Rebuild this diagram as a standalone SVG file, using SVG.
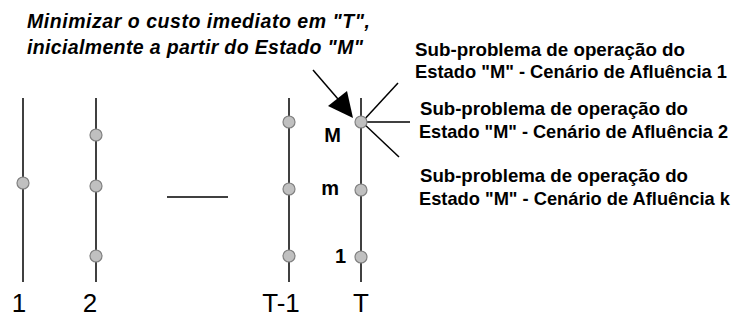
<svg xmlns="http://www.w3.org/2000/svg" width="740" height="326" viewBox="0 0 740 326">
<style>
.ln{stroke:#000;stroke-width:1.5;fill:none}
.nd{fill:#c0c0c0;stroke:#808080;stroke-width:1.2}
.t{font-family:"Liberation Sans",Arial,sans-serif;fill:#000}
.title{font-size:19.5px;font-weight:bold;font-style:italic}
.sub{font-size:19px;font-weight:bold}
.sub2{font-size:18.4px;font-weight:bold}
.ax{font-size:26px}
.st{font-size:20px;font-weight:bold}
</style>
<rect width="740" height="326" fill="#fff"/>
<g id="title">
<text class="t title" x="27" y="28" textLength="343" lengthAdjust="spacing">Minimizar o custo imediato em "T",</text>
<text class="t title" x="27" y="54" textLength="336" lengthAdjust="spacing">inicialmente a partir do Estado "M"</text>
</g>
<g id="connectors">
<line class="ln" x1="23" y1="98" x2="23" y2="282"/>
<line class="ln" x1="96" y1="98" x2="96" y2="282"/>
<line class="ln" x1="289" y1="98" x2="289" y2="282"/>
<line class="ln" x1="361" y1="98" x2="361" y2="282"/>
<line class="ln" x1="167" y1="197" x2="228" y2="197"/>
<line class="ln" x1="313" y1="70" x2="338" y2="99" stroke-width="2"/>
<polygon points="328,106 347,91 353,118" fill="#000"/>
<line class="ln" x1="362" y1="122" x2="398" y2="83"/>
<line class="ln" x1="362" y1="122" x2="410" y2="122"/>
<line class="ln" x1="362" y1="122" x2="399" y2="157"/>
</g>
<g id="stage-1">
<circle class="nd" cx="23" cy="183" r="6"/>
<text class="t ax" x="19" y="312" text-anchor="middle">1</text>
</g>
<g id="stage-2">
<circle class="nd" cx="96" cy="135" r="6"/>
<circle class="nd" cx="96" cy="186" r="6"/>
<circle class="nd" cx="96" cy="256" r="6"/>
<text class="t ax" x="90" y="312" text-anchor="middle">2</text>
</g>
<g id="stage-T-1">
<circle class="nd" cx="289" cy="122" r="6"/>
<circle class="nd" cx="289" cy="189" r="6"/>
<circle class="nd" cx="289" cy="256" r="6"/>
<text class="t ax" x="281" y="312" text-anchor="middle">T-1</text>
</g>
<g id="stage-T">
<circle class="nd" cx="361" cy="122" r="6"/>
<circle class="nd" cx="361" cy="190" r="6"/>
<circle class="nd" cx="361" cy="257" r="6"/>
<text class="t ax" x="361" y="312" text-anchor="middle">T</text>
<text class="t st" x="341" y="142" text-anchor="end">M</text>
<text class="t st" x="339" y="195" text-anchor="end">m</text>
<text class="t st" x="346" y="263" text-anchor="end">1</text>
</g>
<g id="sub-1">
<text class="t sub" x="415" y="56" textLength="270" lengthAdjust="spacingAndGlyphs">Sub-problema de operação do</text>
<text class="t sub" x="415" y="78" textLength="312" lengthAdjust="spacingAndGlyphs">Estado "M" - Cenário de Afluência 1</text>
</g>
<g id="sub-2">
<text class="t sub" x="420" y="115" textLength="268" lengthAdjust="spacingAndGlyphs">Sub-problema de operação do</text>
<text class="t sub2" x="419" y="138" textLength="309" lengthAdjust="spacingAndGlyphs">Estado "M" - Cenário de Afluência 2</text>
</g>
<g id="sub-k">
<text class="t sub" x="420" y="182" textLength="268" lengthAdjust="spacingAndGlyphs">Sub-problema de operação do</text>
<text class="t sub2" x="419" y="205" textLength="311" lengthAdjust="spacingAndGlyphs">Estado "M" - Cenário de Afluência k</text>
</g>
</svg>
